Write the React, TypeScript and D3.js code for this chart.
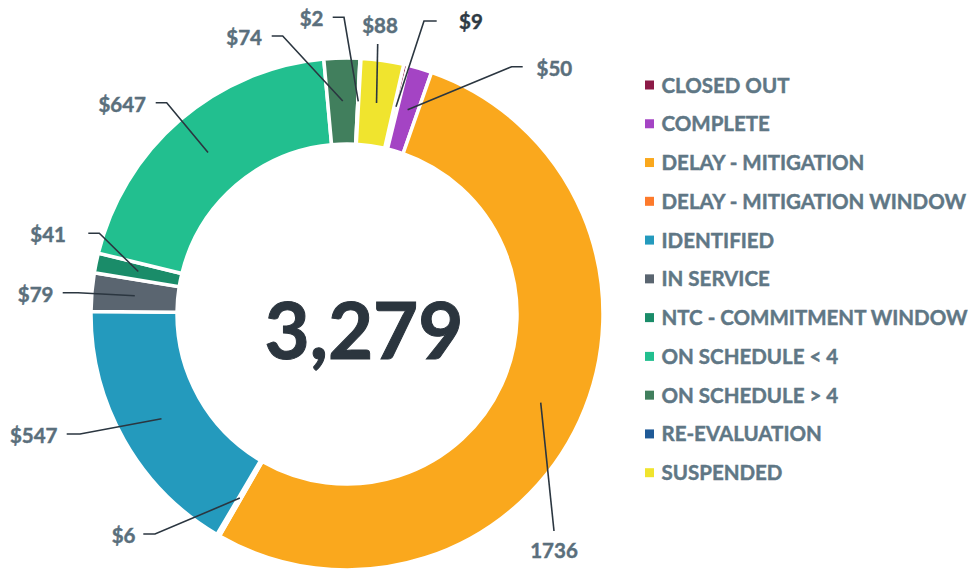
import React from "react";
import * as d3 from "d3";

const categories = [
  "CLOSED OUT",
  "COMPLETE",
  "DELAY - MITIGATION",
  "DELAY - MITIGATION WINDOW",
  "IDENTIFIED",
  "IN SERVICE",
  "NTC - COMMITMENT WINDOW",
  "ON SCHEDULE < 4",
  "ON SCHEDULE > 4",
  "RE-EVALUATION",
  "SUSPENDED",
];
const values = [9, 50, 1736, 6, 547, 79, 41, 647, 74, 2, 88];
const valueLabels = ["$9", "$50", "1736", "$6", "$547", "$79", "$41", "$647", "$74", "$2", "$88"];
const colors = [
  "#8c1a47",
  "#a444c4",
  "#faa81d",
  "#fd7a2b",
  "#249abd",
  "#5a6570",
  "#1a8c69",
  "#22bf8f",
  "#417f5d",
  "#1f5a97",
  "#f0e42e",
];
const totalLabel = "3,279";

// label layout: knee point, tail end of the short horizontal stub, text position & anchor
const labelLayout = [
  { kx: 424, ky: 21, tx2: 436.7, tx: 459, ty: 29, anchor: "start", dark: true },
  { kx: 511.7, ky: 66.7, tx2: 522.7, tx: 536.5, ty: 75.5, anchor: "start" },
  { kx: 554, ky: 531, tx2: 554, tx: 554, ty: 558, anchor: "middle" },
  { kx: 155, ky: 534, tx2: 143.3, tx: 135.5, ty: 542.5, anchor: "end" },
  { kx: 80, ky: 434, tx2: 66.7, tx: 57.5, ty: 443, anchor: "end" },
  { kx: 78, ky: 292.7, tx2: 62.7, tx: 53.5, ty: 301.5, anchor: "end" },
  { kx: 99.3, ky: 233.3, tx2: 88.3, tx: 66, ty: 242, anchor: "end" },
  { kx: 166.7, ky: 102.7, tx2: 155.7, tx: 146, ty: 111.5, anchor: "end" },
  { kx: 282.7, ky: 36, tx2: 271.7, tx: 262, ty: 45, anchor: "end" },
  { kx: 344, ky: 17.3, tx2: 332.7, tx: 323.5, ty: 26.3, anchor: "end" },
  { kx: 377.7, ky: 44, tx2: 377.7, tx: 380, ty: 33, anchor: "middle" },
];

const W = 974;
const H = 573;
const cx = 347;
const cy = 314;
const outerR = 256;
const innerR = 170;
const startAngle = (12.8 * Math.PI) / 180;
const FONT = "Lato, 'Open Sans', sans-serif";

export default function App() {
  const pie = d3
    .pie<number>()
    .sort(null)
    .value((d) => d)
    .startAngle(startAngle)
    .endAngle(startAngle + 2 * Math.PI);
  const arcs = pie(values);
  const arc = d3.arc<d3.PieArcDatum<number>>().innerRadius(innerR).outerRadius(outerR);

  const legendY = d3.scaleLinear().domain([0, categories.length - 1]).range([85, 472.7]);

  return (
    <svg
      width={W}
      height={H}
      style={{ position: "absolute", left: 0, top: 0, background: "#fff" }}
      xmlns="http://www.w3.org/2000/svg"
    >
      <g transform={`translate(${cx},${cy})`}>
        {arcs.map((a, i) => (
          <path key={i} d={arc(a) || ""} fill={colors[i]} stroke="#fff" strokeWidth={3.5} />
        ))}
      </g>
      {arcs.map((a, i) => {
        const [ax, ay] = arc.centroid(a);
        const L = labelLayout[i];
        const pts: [number, number][] = [
          [cx + ax, cy + ay],
          [L.kx, L.ky],
          [L.tx2, L.ky],
        ];
        const col = L.dark ? "#2e3a44" : "#5a6f7c";
        return (
          <g key={"l" + i}>
            <path
              d={d3.line()(pts) || ""}
              fill="none"
              stroke="#2b3640"
              strokeWidth={1.6}
            />
            <text
              x={L.tx}
              y={L.ty}
              textAnchor={L.anchor as any}
              fontFamily={FONT}
              fontWeight={700}
              fontSize={20.5}
              fill={col}
              stroke={col}
              strokeWidth={0.45}
            >
              {valueLabels[i]}
            </text>
          </g>
        );
      })}
      <text
        x={364}
        y={359}
        textAnchor="middle"
        fontFamily={FONT}
        fontWeight={700}
        fontSize={78}
        fill="#2b353e"
        stroke="#2b353e"
        strokeWidth={1}
      >
        {totalLabel}
      </text>
      {categories.map((c, i) => (
        <g key={"lg" + i}>
          <rect x={645} y={legendY(i) - 4.5} width={9} height={9} fill={colors[i]} />
          <text
            x={661.5}
            y={legendY(i) + 7.5}
            fontFamily={FONT}
            fontWeight={700}
            fontSize={20.5}
            fill="#5f7785"
            stroke="#5f7785"
            strokeWidth={0.45}
          >
            {c}
          </text>
        </g>
      ))}
    </svg>
  );
}
